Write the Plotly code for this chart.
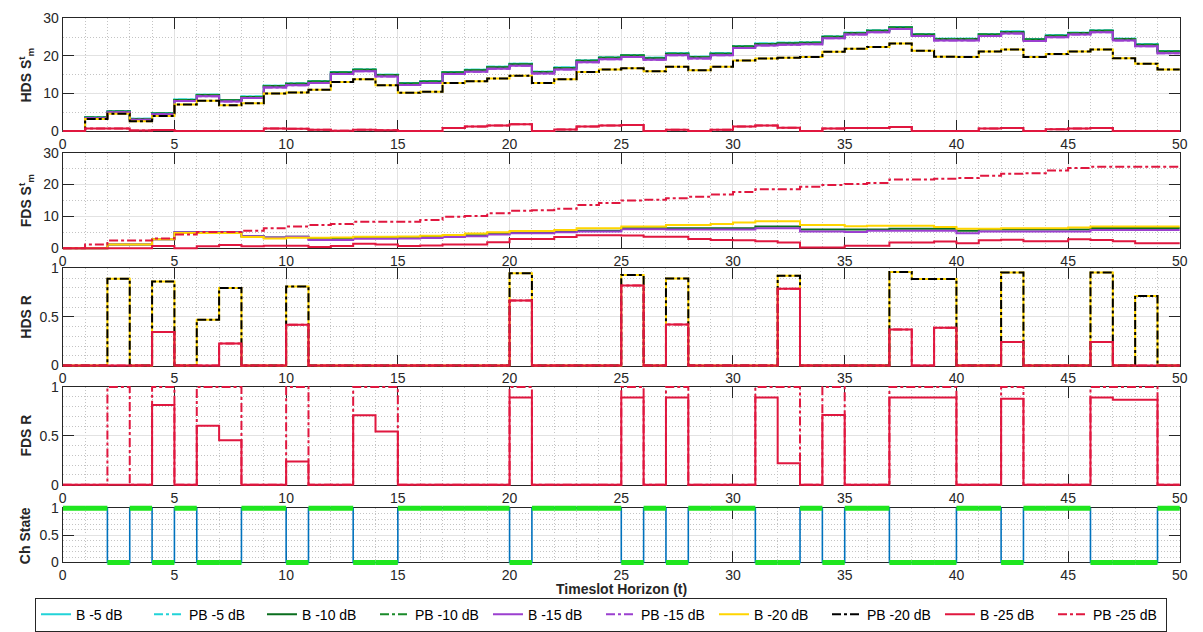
import plotly.graph_objects as go

W, H = 1203, 632

# ---------------- data ----------------
t_edges = list(range(0, 51))
x_ticks = [0, 5, 10, 15, 20, 25, 30, 35, 40, 45, 50]

ch_state = [1, 1, 0, 1, 0, 1, 0, 0, 1, 1,
            0, 1, 1, 0, 0, 1, 1, 1, 1, 1,
            0, 1, 1, 1, 1, 0, 1, 0, 1, 1,
            1, 0, 0, 1, 0, 1, 1, 0, 0, 0,
            1, 1, 0, 1, 1, 1, 0, 0, 0, 1]

hds_s_b10 = [0, 3.6, 5.2, 3.2, 4.7, 8.3, 9.6, 8.2, 9.1, 12.0,
             12.6, 13.2, 15.6, 16.3, 14.9, 12.7, 13.2, 15.6, 16.2, 17.0,
             17.8, 15.7, 16.8, 18.7, 19.5, 20.1, 19.4, 20.6, 19.7, 20.6,
             22.5, 23.2, 23.4, 23.5, 25.1, 26.1, 26.7, 27.6, 25.7, 24.5,
             24.5, 25.7, 26.4, 24.4, 25.4, 26.1, 26.7, 24.5, 23.0, 21.2]
hds_s_b5 = [0, 3.7, 5.3, 3.3, 4.8, 8.4, 9.7, 8.3, 9.2, 12.1,
            12.7, 13.3, 15.7, 16.4, 15.0, 12.8, 13.3, 15.7, 16.3, 17.1,
            17.9, 15.8, 16.9, 18.8, 19.6, 20.2, 19.5, 20.7, 19.8, 20.7,
            22.6, 23.3, 23.5, 23.6, 25.2, 26.2, 26.8, 27.7, 25.8, 24.6,
            24.6, 25.8, 26.5, 24.5, 25.5, 26.2, 26.8, 24.6, 23.1, 21.3]
hds_s_b15 = [0, 3.4, 5.0, 3.0, 4.5, 8.0, 9.3, 7.9, 8.8, 11.6,
             12.2, 12.8, 15.2, 15.9, 14.5, 12.3, 12.8, 15.2, 15.8, 16.6,
             17.4, 15.3, 16.4, 18.3, 19.1, 19.7, 19.0, 20.2, 19.3, 20.2,
             22.1, 22.8, 23.0, 23.1, 24.7, 25.7, 26.3, 27.2, 25.3, 24.1,
             24.1, 25.3, 26.0, 24.0, 25.0, 25.7, 26.3, 24.1, 22.6, 20.7]
hds_s_b20 = [0, 3.2, 4.6, 2.6, 4.0, 7.1, 8.1, 6.9, 7.4, 10.0,
             10.3, 11.0, 13.1, 13.8, 12.2, 10.2, 10.5, 12.8, 13.3, 14.0,
             14.7, 12.8, 13.8, 15.7, 16.4, 16.7, 15.9, 17.1, 16.2, 17.1,
             18.8, 19.3, 19.5, 19.7, 21.1, 21.9, 22.4, 23.3, 21.4, 19.8,
             19.7, 21.2, 21.7, 19.7, 20.5, 21.2, 21.7, 19.4, 17.9, 16.4]
hds_s_b25 = [0, 0.7, 0.7, 0.15, 0.3, 0.05, 0.05, 0.05, 0.05, 0.7,
             0.6, 0.35, 0.1, 0.35, 0.25, 0, 0, 0.85, 1.2, 1.5,
             1.8, 0, 0.4, 1.2, 1.5, 1.6, 0, 0.35, 0, 0.35,
             1.2, 1.5, 0.9, 0, 0.7, 0.85, 0.85, 1.1, 0, 0,
             0, 0.7, 0.85, 0, 0.5, 0.7, 0.85, 0, 0, 0]

fds_s_pb = [0, 1.2, 2.4, 2.4, 3.05, 4.3, 5.1, 5.1, 5.5, 6.3,
            6.8, 7.3, 7.6, 8.3, 8.3, 8.3, 8.85, 9.9, 10.1, 11.0,
            11.8, 11.9, 12.4, 13.6, 14.2, 15.0, 15.2, 15.7, 16.2, 16.9,
            17.7, 18.5, 18.5, 19.3, 19.9, 20.2, 20.5, 21.6, 21.6, 21.8,
            22.1, 22.8, 23.4, 23.6, 24.4, 25.2, 25.6, 25.6, 25.6, 25.6]
fds_s_b10 = [0, 0, 1.2, 1.2, 2.8, 5.0, 5.0, 5.0, 3.8, 3.4,
             3.6, 3.0, 3.0, 3.3, 3.3, 3.3, 3.5, 3.8, 4.1, 4.6,
             5.0, 5.0, 5.2, 5.5, 5.5, 6.3, 6.3, 6.3, 6.3, 6.3,
             6.3, 6.8, 6.8, 5.9, 5.9, 5.9, 5.9, 6.1, 6.1, 6.1,
             5.5, 5.9, 5.9, 5.9, 5.9, 5.9, 6.4, 6.4, 6.4, 6.4]
fds_s_b15 = [0, 0, 1.2, 1.2, 2.8, 5.0, 5.0, 5.0, 3.8, 3.4,
             3.6, 2.6, 2.6, 3.0, 3.0, 3.05, 3.25, 3.5, 3.8, 4.3,
             4.7, 4.7, 5.0, 5.3, 5.3, 6.0, 6.0, 5.9, 5.9, 5.9,
             5.9, 6.3, 6.3, 5.3, 5.3, 5.1, 5.5, 5.5, 5.5, 5.5,
             4.7, 5.3, 5.3, 5.3, 5.3, 5.3, 5.7, 5.7, 5.7, 5.7]
fds_s_b20 = [0, 0, 1.2, 1.2, 2.8, 4.8, 4.8, 4.8, 3.5, 3.1,
             3.3, 3.3, 3.4, 3.6, 3.6, 3.7, 3.9, 4.2, 4.6, 5.0,
             5.4, 5.4, 5.7, 6.3, 6.3, 6.8, 6.8, 7.3, 7.3, 7.6,
             8.1, 8.5, 8.5, 7.3, 7.3, 6.9, 7.1, 7.1, 7.1, 6.7,
             6.1, 6.1, 6.3, 6.3, 6.3, 6.5, 6.8, 6.8, 6.8, 6.8]
fds_s_b25 = [0, 0, 0, 0, 0.7, 0, 0.6, 1.0, 0.6, 0.8,
             0.8, 0.4, 0.7, 1.4, 1.2, 0.7, 0.9, 1.2, 1.2, 1.9,
             2.9, 2.9, 3.5, 4.1, 4.1, 4.0, 3.6, 3.6, 2.9, 2.6,
             2.5, 2.2, 1.8, 0.2, 0.2, 0.8, 0.8, 1.8, 1.8, 2.1,
             1.6, 2.5, 2.7, 2.2, 2.2, 2.8, 2.6, 2.2, 1.6, 1.6]

hds_r_hi = [0, 0, 0.894, 0, 0.864, 0, 0.472, 0.797, 0, 0,
            0.814, 0, 0, 0, 0, 0, 0, 0, 0, 0,
            0.95, 0, 0, 0, 0, 0.933, 0, 0.896, 0, 0,
            0, 0, 0.923, 0, 0, 0, 0, 0.963, 0.89, 0.89,
            0, 0, 0.957, 0, 0, 0, 0.957, 0, 0.716, 0]
hds_r_b25 = [0, 0, 0, 0, 0.346, 0, 0, 0.226, 0, 0,
             0.419, 0, 0, 0, 0, 0, 0, 0, 0, 0,
             0.668, 0, 0, 0, 0, 0.823, 0, 0.421, 0, 0,
             0, 0, 0.789, 0, 0, 0, 0, 0.371, 0, 0.388,
             0, 0, 0.241, 0, 0, 0, 0.241, 0, 0, 0]

fds_r_b = [0, 0, 0, 0, 0.815, 0, 0.603, 0.454, 0, 0,
           0.238, 0, 0, 0.709, 0.543, 0, 0, 0, 0, 0,
           0.891, 0, 0, 0, 0, 0.891, 0, 0.891, 0, 0,
           0, 0.891, 0.219, 0, 0.712, 0, 0, 0.891, 0.891, 0.891,
           0, 0, 0.878, 0, 0, 0, 0.891, 0.868, 0.868, 0]
fds_r_pb = [0, 0, 1, 0, 1, 0, 1, 1, 0, 0,
            1, 0, 0, 1, 1, 0, 0, 0, 0, 0,
            1, 0, 0, 0, 0, 1, 0, 1, 0, 0,
            0, 1, 1, 0, 1, 0, 0, 1, 1, 1,
            0, 0, 1, 0, 0, 0, 1, 1, 1, 0]

series_names = ["B -5 dB", "PB -5 dB", "B -10 dB", "PB -10 dB", "B -15 dB",
                "PB -15 dB", "B -20 dB", "PB -20 dB", "B -25 dB", "PB -25 dB"]
series_colors = ["#22d3d8", "#22d3d8", "#0a6e1e", "#1a8a2a", "#9b3fcf",
                 "#9b3fcf", "#ffd500", "#000000", "#e0173f", "#e0173f"]
series_dash = ["solid", "dashdot", "solid", "dashdot", "solid",
               "dashdot", "solid", "dashdot", "solid", "dashdot"]

panel_series = [
    [hds_s_b5, hds_s_b5, hds_s_b10, hds_s_b10, hds_s_b15, hds_s_b15,
     hds_s_b20, hds_s_b20, hds_s_b25, hds_s_b25],
    [fds_s_b10, fds_s_pb, fds_s_b10, fds_s_pb, fds_s_b15, fds_s_pb,
     fds_s_b20, fds_s_pb, fds_s_b25, fds_s_pb],
    [hds_r_hi, hds_r_hi, hds_r_hi, hds_r_hi, hds_r_hi, hds_r_hi,
     hds_r_hi, hds_r_hi, hds_r_b25, hds_r_b25],
    [fds_r_b, fds_r_pb, fds_r_b, fds_r_pb, fds_r_b, fds_r_pb,
     fds_r_b, fds_r_pb, fds_r_b, fds_r_pb],
]

y_labels = ["<b>HDS S<sup>t</sup><sub>m</sub></b>", "<b>FDS S<sup>t</sup><sub>m</sub></b>",
            "<b>HDS R</b>", "<b>FDS R</b>", "<b>Ch State</b>"]
y_ranges = [(0, 30), (0, 30), (0, 1), (0, 1), (0, 1)]
y_dticks = [10, 10, 0.5, 0.5, 0.5]
y_minor = [5, 5, 0.1, 0.1, 0.1]

# ---------------- layout geometry (pixels) ----------------
px_left, px_right = 59.3, 1187.7
panel_px = [(10.7, 126.7), (149.0, 247.3), (268.0, 368.0), (390.0, 490.7), (515.0, 570.7)]
PAD = 4.0

FONT = "Liberation Sans, Arial, sans-serif"
AX_COLOR = "#262626"


def xd():
    return [px_left / W, px_right / W]


def yd(top, bot):
    return [1 - bot / H, 1 - top / H]


def stairs(vals):
    return list(vals) + [vals[-1]]


fig = go.Figure()
layout = {}

for i in range(5):
    n_main = i + 1
    n_data = i + 6
    top, bot = panel_px[i]
    r0, r1 = y_ranges[i]
    hpx = bot - top
    ext = PAD / hpx * (r1 - r0)
    kx = "xaxis" if n_main == 1 else f"xaxis{n_main}"
    ky = "yaxis" if n_main == 1 else f"yaxis{n_main}"
    xid = "x" if n_main == 1 else f"x{n_main}"
    yid = "y" if n_main == 1 else f"y{n_main}"
    common = dict(showline=True, linecolor=AX_COLOR, linewidth=1, mirror="ticks",
                  ticks="inside", ticklen=11, tickwidth=1, tickcolor=AX_COLOR,
                  showgrid=True, gridcolor="#e2e2e2", gridwidth=1, zeroline=False,
                  tickfont=dict(family=FONT, size=14, color=AX_COLOR))
    layout[kx] = dict(domain=xd(), anchor=yid,
                      range=[0, 50], tickmode="array", tickvals=x_ticks,
                      minor=dict(dtick=1, tick0=0, showgrid=True, gridcolor="#c4c4c4",
                                 griddash="1px,2px", gridwidth=1, ticks=""),
                      **common)
    layout[ky] = dict(domain=yd(top, bot), anchor=xid,
                      range=[r0, r1], dtick=y_dticks[i], tick0=0,
                      minor=dict(dtick=y_minor[i], tick0=0, showgrid=True, gridcolor="#c4c4c4",
                                 griddash="1px,2px", gridwidth=1, ticks=""),
                      **common)
    # invisible data axes with a slightly extended area so lines on the edges are not clipped
    layout[f"xaxis{n_data}"] = dict(domain=xd(), anchor=f"y{n_data}", range=[0, 50],
                                    visible=False, showgrid=False, zeroline=False)
    layout[f"yaxis{n_data}"] = dict(domain=yd(top - PAD, bot + PAD), anchor=f"x{n_data}",
                                    range=[r0 - ext, r1 + ext], visible=False,
                                    showgrid=False, zeroline=False)
    # placeholder so the framed subplot (axes, ticks, grid) is created
    fig.add_trace(go.Scatter(x=[0, 50], y=[r0, r1], mode="markers",
                             marker=dict(opacity=0, size=1), showlegend=False,
                             xaxis=xid, yaxis=yid, hoverinfo="skip"))

# ---------------- traces ----------------
for p in range(4):
    xa, ya = f"x{p + 6}", f"y{p + 6}"
    arrs = panel_series[p]
    for s in range(10):
        # skip a line that is exactly covered by a later identical one
        covered = any(arrs[s2] is arrs[s] and (series_dash[s2] == "solid" or series_dash[s2] == series_dash[s])
                      for s2 in range(s + 1, 10))
        if covered and p > 0:
            continue
        fig.add_trace(go.Scatter(
            x=t_edges, y=stairs(arrs[s]), mode="lines",
            line=dict(shape="hv", color=series_colors[s], width=2, dash=series_dash[s]),
            name=series_names[s], legendgroup=series_names[s],
            showlegend=(p == 0), xaxis=xa, yaxis=ya, hoverinfo="skip"))

# Channel state: blue stairs + thick green levels
fig.add_trace(go.Scatter(
    x=t_edges, y=stairs(ch_state), mode="lines",
    line=dict(shape="hv", color="#0072BD", width=1.6),
    showlegend=False, xaxis="x10", yaxis="y10", hoverinfo="skip"))
gx, gy = [], []
for k, v in enumerate(ch_state):
    gx += [t_edges[k], t_edges[k + 1], None]
    gy += [v, v, None]
fig.add_trace(go.Scatter(
    x=gx, y=gy, mode="lines", line=dict(color="#1fe61f", width=5),
    showlegend=False, xaxis="x10", yaxis="y10", hoverinfo="skip"))

# ---------------- annotations ----------------
annotations = []
for i in range(5):
    top, bot = panel_px[i]
    annotations.append(dict(
        text=y_labels[i], xref="paper", yref="paper",
        x=22 / W, y=1 - (top + bot) / 2 / H, xanchor="center", yanchor="middle",
        textangle=-90, showarrow=False,
        font=dict(family=FONT, size=14, color=AX_COLOR)))
annotations.append(dict(
    text="<b>Timeslot Horizon (t)</b>", xref="paper", yref="paper",
    x=(px_left + px_right) / 2 / W, y=1 - 598 / H, xanchor="center", yanchor="middle",
    showarrow=False, borderpad=0, font=dict(family=FONT, size=14, color=AX_COLOR)))

fig.update_layout(
    width=W, height=H,
    margin=dict(l=0, r=0, t=0, b=0),
    paper_bgcolor="white", plot_bgcolor="rgba(0,0,0,0)",
    font=dict(family=FONT, size=14, color=AX_COLOR),
    annotations=annotations,
    showlegend=True,
    legend=dict(orientation="h", x=603 / W, xanchor="center", y=1 - 607 / H, yanchor="top",
                bordercolor="#262626", borderwidth=1, bgcolor="white",
                font=dict(family=FONT, size=14, color="#000000"),
                entrywidth=68, entrywidthmode="pixels", itemwidth=30,
                traceorder="normal", tracegroupgap=0),
    **layout,
)

fig.write_html("out.html")
